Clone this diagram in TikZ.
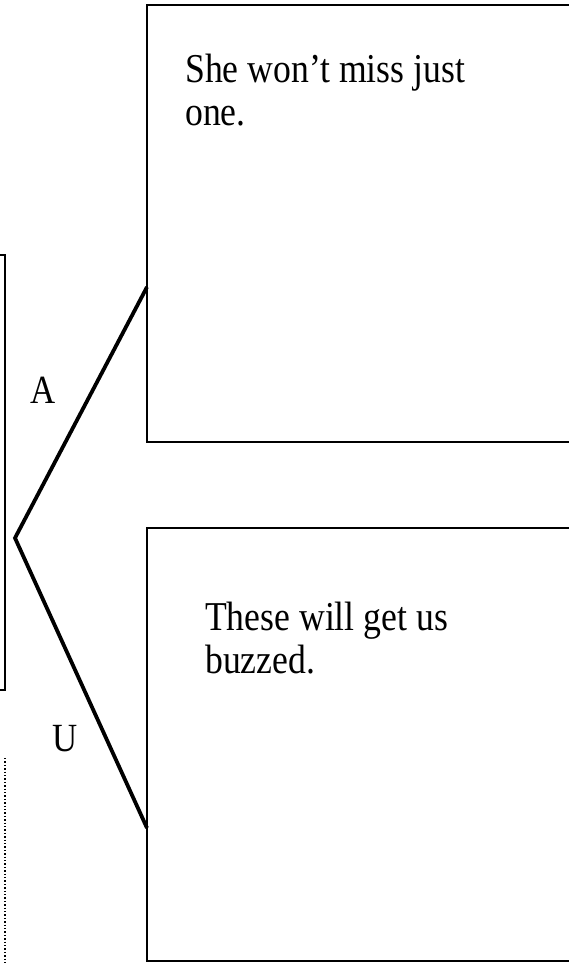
\documentclass[tikz,border=0pt]{standalone}
\usepackage{fontspec}
\setmainfont{Liberation Serif}
\newfontfamily\narrowserif[FakeStretch=0.87]{Liberation Serif}
\begin{document}
\begin{tikzpicture}[x=1pt,y=-1pt,
  frame/.style={draw=black,line width=1.8pt},
  branch/.style={draw=black,line width=3.8pt,line join=miter},
  txt/.style={font=\narrowserif\fontsize{41}{43}\selectfont,inner sep=0pt,align=left},
  lbl/.style={font=\narrowserif\fontsize{40}{43}\selectfont,inner sep=0pt}]
  \useasboundingbox[fill=white] (0,0) rectangle (569,963);
  \begin{scope}
    \clip (0,0) rectangle (569,963);
    % panels
    \draw[frame] (-10,255) rectangle (5,690);
    \draw[black,line width=1.4pt,dotted] (5,758) -- (5,975);
    \draw[frame] (147,5) rectangle (590,442);
    \draw[frame] (147,528) rectangle (590,961);
    % branching lines
    \coordinate (v) at (15,538);
    \coordinate (ta) at (147,287);
    \coordinate (tu) at (147,828);
    \draw[branch] (ta) -- (v) -- (tu);
  \end{scope}
  \node[lbl,anchor=base west] (la) at (30,403) {A};
  \node[lbl,anchor=base west] (lu) at (52,751) {U};
  % the base anchor of a two-line node sits on its last line
  \node[txt,anchor=base west] (t1) at (185,125) {She won’t miss just\\one.};
  \node[txt,anchor=base west] (t2) at (205,673) {These will get us\\buzzed.};
\end{tikzpicture}
\end{document}
